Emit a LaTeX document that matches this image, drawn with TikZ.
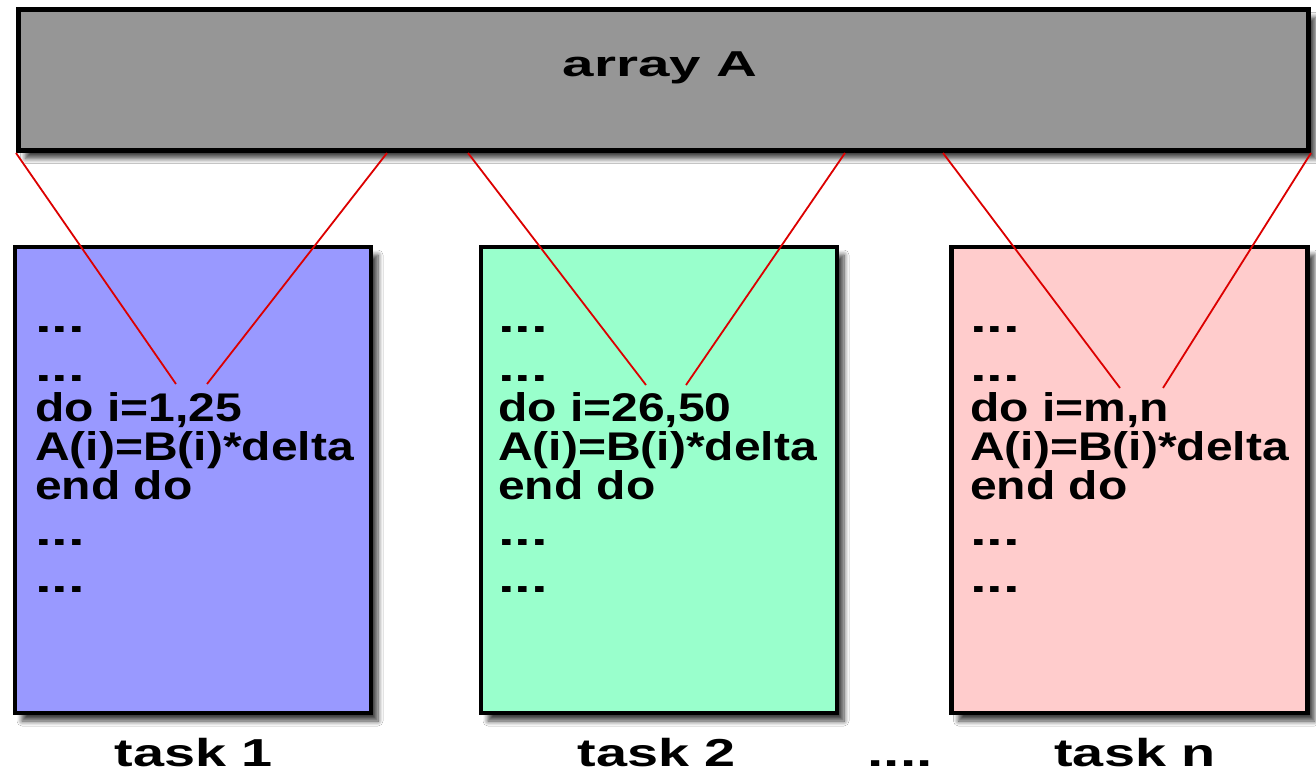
\documentclass[tikz,border=0pt]{standalone}
\usepackage{fontspec}
\usepackage{graphicx}
\setmainfont{Liberation Sans}
\usetikzlibrary{shadows.blur}
\definecolor{barfill}{RGB}{150,150,150}
\definecolor{bluefill}{RGB}{153,153,255}
\definecolor{greenfill}{RGB}{153,255,204}
\definecolor{pinkfill}{RGB}{255,204,204}
\definecolor{linkred}{RGB}{220,0,0}
\newcommand\wx[2]{\scalebox{#1}[1]{#2}}
\newcommand\codelines[3]{%
  \node[code] (#1d1) at (#2,333) {\wx{1.5}{...}};
  \node[code] (#1d2) at (#2,381) {\wx{1.5}{...}};
  \node[code] (#1do) at (#2,421) {\wx{1.2}{#3}};
  \node[code] (#1as) at (#2,460) {\wx{1.2}{A(i)=B(i)*delta}};
  \node[code] (#1en) at (#2,499) {\wx{1.2}{end do}};
  \node[code] (#1d3) at (#2,545) {\wx{1.5}{...}};
  \node[code] (#1d4) at (#2,592) {\wx{1.5}{...}};
}
\begin{document}
\begin{tikzpicture}[x=1pt,y=-1pt,
  shadowed/.style={blur shadow={shadow xshift=7pt, shadow yshift=-8pt, shadow blur radius=5pt, shadow blur steps=8, shadow opacity=75}},
  bar/.style={draw=black, line width=5pt, fill=barfill, minimum width=1290pt, minimum height=141pt, inner sep=0pt, shadowed},
  taskbox/.style={draw=black, line width=4.5pt, minimum width=356pt, minimum height=466pt, inner sep=0pt, shadowed},
  code/.style={anchor=base west, inner sep=0pt, font=\fontsize{40}{40}\selectfont\bfseries},
  lab/.style={anchor=base, inner sep=0pt, font=\fontsize{39}{39}\selectfont\bfseries},
  link/.style={draw=linkred, line width=1.8pt}
]
\fill[white] (0,0) rectangle (1316,775);
\useasboundingbox (0,0) rectangle (1316,775);

\node[bar] (bar) at (663.5,80) {};
\node[anchor=base, inner sep=0pt, font=\fontsize{36}{36}\selectfont\bfseries] (title) at (660,77) {\wx{1.57}{array A}};

\node[taskbox, fill=bluefill] (box1) at (193,480) {};
\node[taskbox, fill=greenfill] (box2) at (659,480) {};
\node[taskbox, fill=pinkfill] (box3) at (1129.5,480) {};

\codelines{a}{35}{do i=1,25}
\codelines{b}{498}{do i=26,50}
\codelines{c}{970}{do i=m,n}

\node[lab] (lab1) at (194,766) {\wx{1.43}{task 1}};
\node[lab] (lab2) at (657,766) {\wx{1.43}{task 2}};
\node[lab] (labdots) at (900,766) {\wx{1.5}{....}};
\node[lab] (labn) at (1135,766) {\wx{1.43}{task n}};

\coordinate (s1b) at (387,153);
\coordinate (s2a) at (468,153);
\coordinate (s2b) at (845,153);
\coordinate (s3a) at (943,153);
\coordinate (e1a) at (176,384);
\coordinate (e1b) at (207,384);
\coordinate (e2a) at (646,385);
\coordinate (e2b) at (686,385);
\coordinate (e3a) at (1120,388);
\coordinate (e3b) at (1163,388);

\draw[link] (bar.south west) -- (e1a);
\draw[link] (s1b) -- (e1b);
\draw[link] (s2a) -- (e2a);
\draw[link] (s2b) -- (e2b);
\draw[link] (s3a) -- (e3a);
\draw[link] (bar.south east) -- (e3b);
\end{tikzpicture}
\end{document}
